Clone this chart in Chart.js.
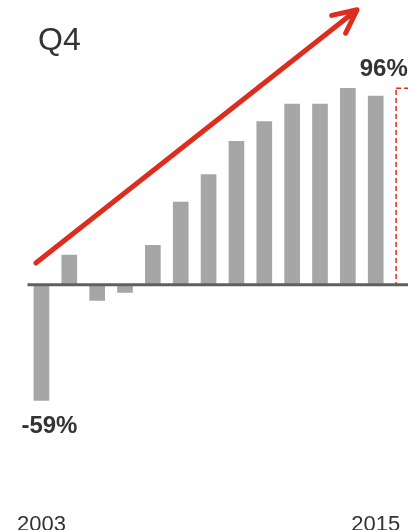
<!DOCTYPE html>
<html>
<head>
<meta charset="utf-8">
<script src="https://cdn.jsdelivr.net/npm/chart.js@4"></script>
<style>
  html, body { margin: 0; padding: 0; background: #fff; overflow: hidden; }
  #wrap { width: 408px; height: 530px; overflow: hidden; position: relative; }
  #inner { width: 440px; height: 530px; position: absolute; left: 0; top: 0; }
</style>
</head>
<body>
<div id="wrap"><div id="inner"><canvas id="chart"></canvas></div></div>
<script>
const years = ['2003', '2004', '2005', '2006', '2007', '2008', '2009', '2010', '2011', '2012', '2013', '2014', '2015', '2016'];
const growth = [-59, 15, -8, -4, 20, 42, 56, 73, 83, 92, 92, 100, 96];
const outlook = [100];
const shownYears = ['2003', '2015'];
const callouts = [['2003', '-59%'], ['2015', '96%']];
const title = 'Q4';

const red = '#dc2d1e';
const grey = '#a6a6a6';

const values = growth.concat(outlook);
const colors = values.map((v, i) => i < growth.length ? grey : 'rgba(0,0,0,0)');

const overlay = {
    id: 'overlay',
    afterDatasetsDraw(chart) {
        const ctx = chart.ctx;
        const x = chart.scales.x;
        const y = chart.scales.y;
        const meta = chart.getDatasetMeta(0);
        const area = chart.chartArea;

        // dashed outline for the outlook bar
        meta.data.forEach((bar, i) => {
            if (i < growth.length) return;
            const p = bar.getProps(['x', 'y', 'base', 'width'], true);
            ctx.save();
            ctx.strokeStyle = red;
            ctx.lineWidth = 1.5;
            ctx.setLineDash([5, 3]);
            ctx.strokeRect(p.x - p.width / 2, p.y, p.width, p.base - p.y);
            ctx.restore();
        });

        // zero line
        const y0 = y.getPixelForValue(0);
        ctx.save();
        ctx.strokeStyle = '#5f5f5f';
        ctx.lineWidth = 3;
        ctx.beginPath();
        ctx.moveTo(area.left, y0);
        ctx.lineTo(chart.width, y0);
        ctx.stroke();
        ctx.restore();

        // trend arrow
        const x1 = x.getPixelForValue(-0.2), y1 = y.getPixelForValue(11);
        const x2 = x.getPixelForValue(11.33), y2 = y.getPixelForValue(140);
        const ang = Math.atan2(y1 - y2, x1 - x2);
        const head = 26, spread = 0.45;
        ctx.save();
        ctx.strokeStyle = red;
        ctx.lineWidth = 5;
        ctx.lineCap = 'round';
        ctx.lineJoin = 'round';
        ctx.beginPath();
        ctx.moveTo(x1, y1);
        ctx.lineTo(x2, y2);
        ctx.moveTo(x2 + head * Math.cos(ang + spread), y2 + head * Math.sin(ang + spread));
        ctx.lineTo(x2, y2);
        ctx.lineTo(x2 + head * Math.cos(ang - spread), y2 + head * Math.sin(ang - spread));
        ctx.stroke();
        ctx.restore();

        // texts
        ctx.save();
        ctx.fillStyle = '#333';
        ctx.textBaseline = 'alphabetic';
        ctx.font = '32px "Liberation Sans", Arial, sans-serif';
        ctx.textAlign = 'left';
        ctx.fillText(title, 38, 50);

        ctx.textAlign = 'center';
        ctx.font = 'bold 24px "Liberation Sans", Arial, sans-serif';
        callouts.forEach(([yr, txt]) => {
            const i = years.indexOf(yr);
            const p = meta.data[i].getProps(['x', 'y', 'base'], true);
            const v = values[i];
            const ty = v < 0 ? p.y + 33 : p.y - 20;
            ctx.fillText(txt, p.x + 8, ty);
        });

        ctx.font = '22px "Liberation Sans", Arial, sans-serif';
        shownYears.forEach(yr => {
            ctx.fillText(yr, x.getPixelForValue(years.indexOf(yr)), 531);
        });
        ctx.restore();
    }
};

new Chart(document.getElementById('chart'), {
    type: 'bar',
    data: {
        labels: years,
        datasets: [{
            data: values,
            backgroundColor: colors,
            borderWidth: 0,
            barThickness: 15
        }]
    },
    options: {
        responsive: true,
        maintainAspectRatio: false,
        animation: false,
        layout: { padding: { left: 27.5, right: 22.5, top: 0, bottom: 0 } },
        plugins: {
            legend: { display: false },
            tooltip: { enabled: false }
        },
        scales: {
            x: { display: false },
            y: { display: false, min: -125, max: 145 }
        }
    },
    plugins: [overlay]
});
</script>
</body>
</html>
